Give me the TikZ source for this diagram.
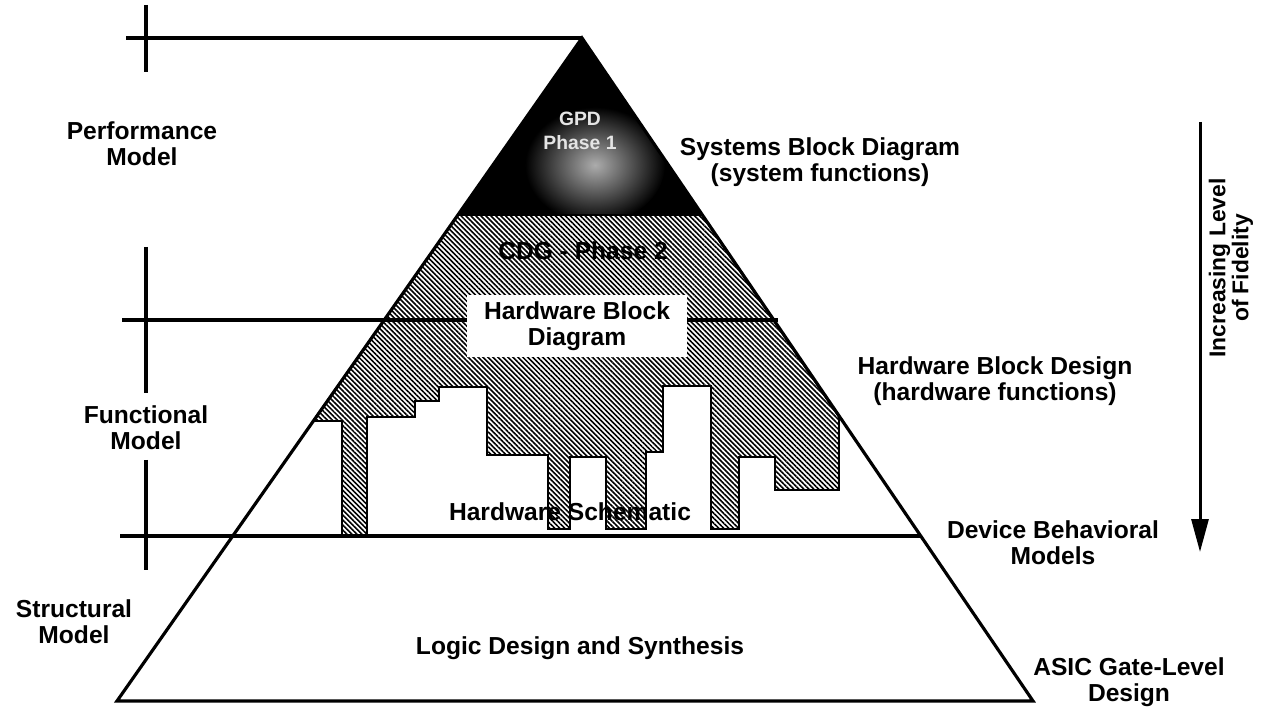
\documentclass[tikz,border=0pt]{standalone}
\usepackage{fontspec}
\setmainfont{Liberation Sans}
\usetikzlibrary{patterns.meta, arrows.meta}

\begin{document}
\begin{tikzpicture}[
    x=0.02cm, y=-0.02cm,
    lbl/.style={align=center, inner sep=0pt, font=\fontsize{14}{15}\selectfont\bfseries},
    level/.style={line width=2pt},
    pyr/.style={line width=1.8pt, line join=miter},
    hatch/.style={pattern={Lines[angle=-45, distance=2pt, line width=0.9pt]}, draw, line width=1pt},
    whitebox/.style={fill=white, minimum width=4.42cm, minimum height=1.24cm, align=center,
                     inner sep=0pt, font=\fontsize{14}{15}\selectfont\bfseries},
    arr/.style={-{Triangle[length=0.66cm, width=0.34cm]}, line width=1.7pt}
]
\useasboundingbox (0,0) rectangle (1268,709);

% corners of the pyramid
\coordinate (apex) at (582,38);
\coordinate (botL) at (117,701);
\coordinate (botR) at (1033,701);

% level lines with ticks
\draw[level] (126,38) -- (apex);
\draw[level] (146,5) -- (146,72);
\draw[level] (122,320) -- (778,320);
\draw[level] (146,247) -- (146,393);
\draw[level] (120,536) -- (920,536);
\draw[level] (146,460) -- (146,570);

% phase 1 (black top)
\fill (apex) -- (702,215) -- (458,215) -- cycle;
\begin{scope}
  \clip (apex) -- (702,215) -- (458,215) -- cycle;
  \shade[inner color=gray!65, outer color=black] (595,165) ellipse [x radius=70, y radius=58];
\end{scope}
\node[lbl, text=gray!20, font=\fontsize{11}{14}\selectfont\bfseries] (phase1) at (580,131) {GPD\\Phase 1};

% phase 2 (hatched)
\draw[hatch] (458,215) -- (702,215) -- (839,417) -- (839,490) -- (775,490) -- (775,457)
  -- (739,457) -- (739,529) -- (711,529) -- (711,386) -- (663,386) -- (663,452)
  -- (646,452) -- (646,529) -- (606,529) -- (606,457) -- (570,457) -- (570,529)
  -- (548,529) -- (548,455) -- (487,455) -- (487,387) -- (439,387) -- (439,401)
  -- (415,401) -- (415,417) -- (367,417) -- (367,536) -- (342,536) -- (342,421)
  -- (313,421) -- cycle;
\draw[level] (380,320) -- (778,320);

% pyramid outline
\draw[pyr] (apex) -- (botR) -- (botL) -- cycle;

\node[whitebox] (hwbox) at (577,326) {Hardware Block\\Diagram};
\node[lbl] (cdg) at (583,251) {CDG - Phase 2};
\node[lbl] (hwsch) at (570,512) {Hardware Schematic};
\node[lbl] (logic) at (580,648) {Logic Design and Synthesis};

% left side
\node[lbl] (perf) at (142,144) {Performance\\Model};
\node[lbl] (func) at (146,428) {Functional\\Model};
\node[lbl] (struc) at (74,622) {Structural\\Model};

% right side
\node[lbl] (sysbd) at (820,162) {Systems Block Diagram\\(system functions)};
\node[lbl] (hwbd) at (995,381) {Hardware Block Design\\(hardware functions)};
\node[lbl] (devbm) at (1053,543) {Device Behavioral\\Models};
\node[lbl] (asic) at (1129,682) {ASIC Gate-Level\\Design};

% fidelity arrow
\coordinate (fidtop) at (1200,122);
\coordinate (fidbot) at (1200,552);
\draw[arr] (fidtop) -- (fidbot);
\node[lbl, rotate=90, font=\fontsize{13}{12}\selectfont\bfseries] (fidel) at (1231,268) {Increasing Level\\of Fidelity};
\end{tikzpicture}
\end{document}
